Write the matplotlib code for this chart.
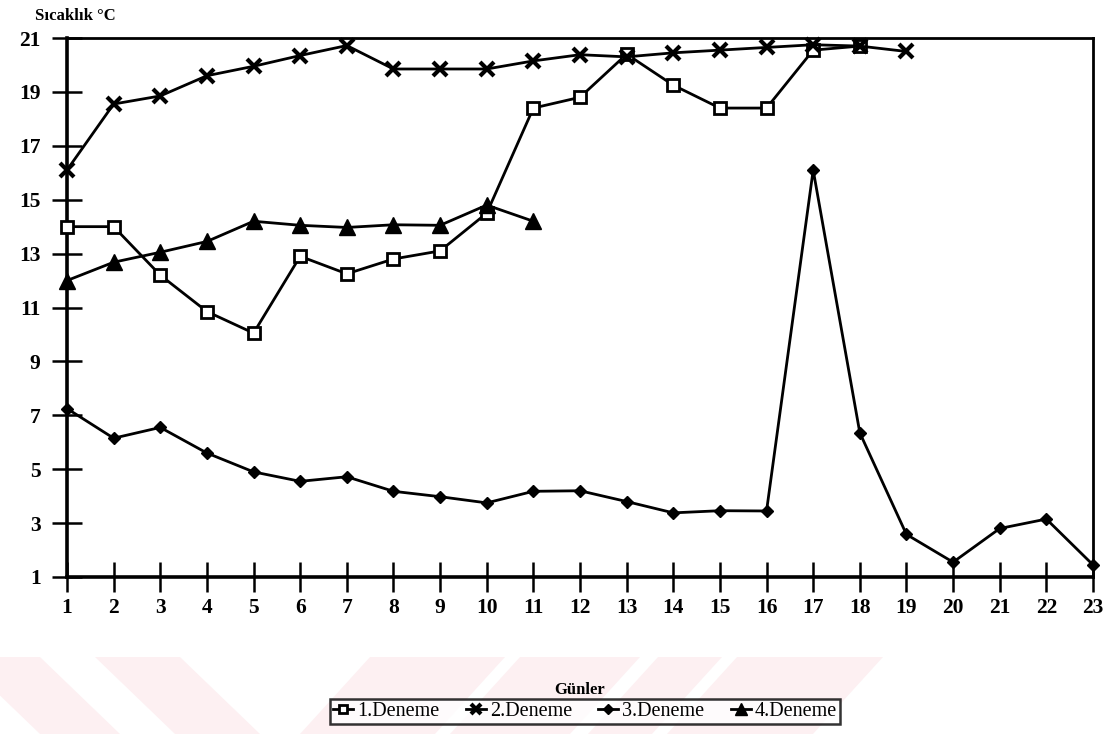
import matplotlib.pyplot as plt
from matplotlib.patches import Polygon

# günler
days = list(range(1, 24))

deneme1 = [14.0, 14.0, 12.2, 10.85, 10.05, 12.9, 12.25, 12.8, 13.1, 14.5,
           18.4, 18.8, 20.4, 19.25, 18.4, 18.4, 20.55, 20.7]
deneme2 = [16.1, 18.55, 18.85, 19.6, 19.95, 20.35, 20.72, 19.85, 19.85, 19.85,
           20.15, 20.38, 20.3, 20.45, 20.55, 20.65, 20.75, 20.7, 20.5]
deneme3 = [7.25, 6.15, 6.55, 5.6, 4.9, 4.55, 4.72, 4.18, 3.98, 3.75,
           4.18, 4.2, 3.8, 3.38, 3.46, 3.45, 16.1, 6.35, 2.58, 1.55,
           2.8, 3.15, 1.45]
deneme4 = [12.0, 12.68, 13.05, 13.45, 14.2, 14.05, 13.97, 14.07, 14.05, 14.8, 14.2]

series_labels = ['1.Deneme', '2.Deneme', '3.Deneme', '4.Deneme']
y_ticks = list(range(1, 22, 2))

plt.rcParams['font.family'] = ['Liberation Serif', 'DejaVu Serif']

W, H = 1120, 734
fig = plt.figure(figsize=(W / 100, H / 100), dpi=100)


def px(x, y):
    return (x / W, 1 - y / H)


# soluk pembe filigran şeritleri
pink = '#fdf0f2'
y0, y1 = 657, 734
bands = [((-40, 40), (40, 120)),
         ((95, 180), (175, 260)),
         ((370, 505), (300, 435)),
         ((520, 640), (450, 570)),
         ((658, 722), (588, 652)),
         ((737, 883), (667, 813))]
for (ta, tb), (ba, bb) in bands:
    poly = Polygon([px(ta, y0), px(tb, y0), px(bb, y1), px(ba, y1)],
                   closed=True, transform=fig.transFigure,
                   facecolor=pink, edgecolor='none', zorder=0)
    fig.patches.append(poly)

ax = fig.add_axes([67 / W, 1 - 577 / H, (1093 - 67) / W, (577 - 38) / H])
ax.patch.set_alpha(0)

lw = 2.0
l1, = ax.plot(days[:len(deneme1)], deneme1, color='black', lw=lw, marker='s',
              markersize=8, markerfacecolor='white', markeredgewidth=2,
              clip_on=False, zorder=3)
l2, = ax.plot(days[:len(deneme2)], deneme2, color='black', lw=lw, marker='x',
              markersize=10, markeredgewidth=3, clip_on=False, zorder=3)
l3, = ax.plot(days[:len(deneme3)], deneme3, color='black', lw=lw, marker='D',
              markersize=6.5, clip_on=False, zorder=3)
l4, = ax.plot(days[:len(deneme4)], deneme4, color='black', lw=lw, marker='^',
              markersize=11, clip_on=False, zorder=3)

ax.set_xlim(1, 23)
ax.set_ylim(1, 21)
ax.set_xticks(days)
ax.set_yticks(y_ticks)
ax.tick_params(direction='inout', length=22, width=1.8, labelsize=15.5)
ax.tick_params(axis='x', pad=4)
ax.tick_params(axis='y', pad=8)
for lab in ax.get_xticklabels() + ax.get_yticklabels():
    lab.set_fontweight('bold')

for side in ['left', 'bottom']:
    ax.spines[side].set_linewidth(2.6)
for side in ['top', 'right']:
    ax.spines[side].set_linewidth(2.0)

fig.text(35 / W, 1 - 16 / H, 'Sıcaklık °C', fontsize=12, fontweight='bold',
         ha='left', va='center')
fig.text(580 / W, 1 - 690 / H, 'Günler', fontsize=12, fontweight='bold',
         ha='center', va='center')

leg = fig.legend([l1, l2, l3, l4], series_labels, ncol=4, loc='lower center',
                 bbox_to_anchor=(585 / W, 0.0), fontsize=14.5, frameon=True,
                 fancybox=False, edgecolor='black', handlelength=1.0,
                 handletextpad=0.2, columnspacing=1.3, borderpad=0.15,
                 markerscale=0.75)
leg.get_frame().set_linewidth(1.8)

fig.savefig('out.png', dpi=100)
